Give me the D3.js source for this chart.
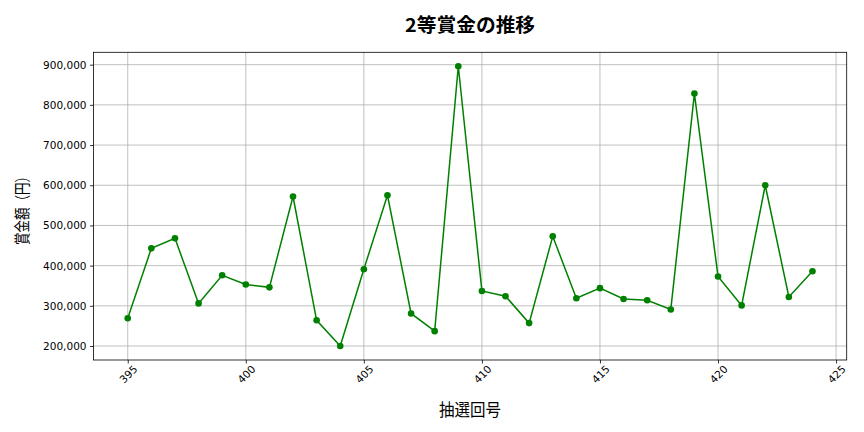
<!DOCTYPE html>
<html><head><meta charset="utf-8">
<script src="https://cdn.jsdelivr.net/npm/d3@7"></script>
<style>body{margin:0;background:#fff}text{font-family:"Noto Sans CJK JP","Noto Sans",sans-serif}</style>
</head><body>
<svg id="c" width="864" height="432"></svg>
<script>
const draws = [395,396,397,398,399,400,401,402,403,404,405,406,407,408,409,410,411,412,413,414,415,416,417,418,419,420,421,422,423,424];
const prizes = [269000,443000,468000,306000,376000,353000,346000,572000,264000,200000,391000,575000,281000,237000,896000,337000,324000,257000,473000,319000,344000,317000,314000,291000,828000,373000,301000,600000,322000,386000];
const xTicks = [395,400,405,410,415,420,425];
const yTicks = [200000,300000,400000,500000,600000,700000,800000,900000];
const title = "2等賞金の推移";
const xLabel = "抽選回号";
const yLabel = "賞金額（円）";

const svg = d3.select("#c");
const L=93.5, R=846.7, T=52.3, B=360;
const xPad = (d3.max(draws)-d3.min(draws))*0.05;
const yPad = (d3.max(prizes)-d3.min(prizes))*0.05;
const x = d3.scaleLinear().domain([d3.min(draws)-xPad, d3.max(draws)+xPad]).range([L,R]);
const y = d3.scaleLinear().domain([d3.min(prizes)-yPad, d3.max(prizes)+yPad]).range([B,T]);

// grid
svg.append("g").selectAll("line").data(xTicks).join("line")
  .attr("x1",d=>x(d)).attr("x2",d=>x(d)).attr("y1",T).attr("y2",B)
  .attr("stroke","#b0b0b0").attr("stroke-width",0.8);
svg.append("g").selectAll("line").data(yTicks).join("line")
  .attr("x1",L).attr("x2",R).attr("y1",d=>y(d)).attr("y2",d=>y(d))
  .attr("stroke","#b0b0b0").attr("stroke-width",0.8);

// axes
const xAxis = svg.append("g").attr("transform",`translate(0,${B})`)
  .call(d3.axisBottom(x).tickValues(xTicks).tickSize(3.5).tickPadding(3).tickFormat(d3.format("d")));
xAxis.select(".domain").remove();
xAxis.selectAll("text").attr("font-size",10.5).attr("fill","#000").style("font-family","'DejaVu Sans'")
  .attr("text-anchor","middle").attr("dy",0)
  .attr("transform","translate(0,14) rotate(-45)").attr("y",0).attr("dominant-baseline","central");
const yAxis = svg.append("g").attr("transform",`translate(${L},0)`)
  .call(d3.axisLeft(y).tickValues(yTicks).tickSize(3.5).tickPadding(3.5).tickFormat(d3.format(",")));
yAxis.select(".domain").remove();
yAxis.selectAll("text").attr("font-size",10.5).attr("fill","#000").style("font-family","'DejaVu Sans'");
svg.selectAll(".tick line").attr("stroke","#000").attr("stroke-width",0.8);

svg.append("rect").attr("x",L).attr("y",T).attr("width",R-L).attr("height",B-T)
  .attr("fill","none").attr("stroke","#000").attr("stroke-width",0.8);

// line
svg.append("path").datum(draws.map((d,i)=>[d,prizes[i]]))
  .attr("d",d3.line().x(d=>x(d[0])).y(d=>y(d[1])))
  .attr("fill","none").attr("stroke","#008000").attr("stroke-width",1.5);
svg.append("g").selectAll("circle").data(draws).join("circle")
  .attr("cx",d=>x(d)).attr("cy",(d,i)=>y(prizes[i])).attr("r",3.3).attr("fill","#008000");

// labels
svg.append("text").attr("x",(L+R)/2).attr("y",32).attr("text-anchor","middle")
  .attr("font-size",19).attr("font-weight","600")
  .attr("textLength",130).attr("lengthAdjust","spacingAndGlyphs").text(title);
svg.append("text").attr("x",(L+R)/2).attr("y",415.5).attr("text-anchor","middle")
  .attr("font-size",17).attr("textLength",62).attr("lengthAdjust","spacingAndGlyphs").text(xLabel);
svg.append("text").attr("transform",`translate(27.5,207.5) rotate(-90)`).attr("text-anchor","middle")
  .attr("font-size",16).attr("textLength",75).attr("lengthAdjust","spacingAndGlyphs").text(yLabel);
</script>
</body></html>
